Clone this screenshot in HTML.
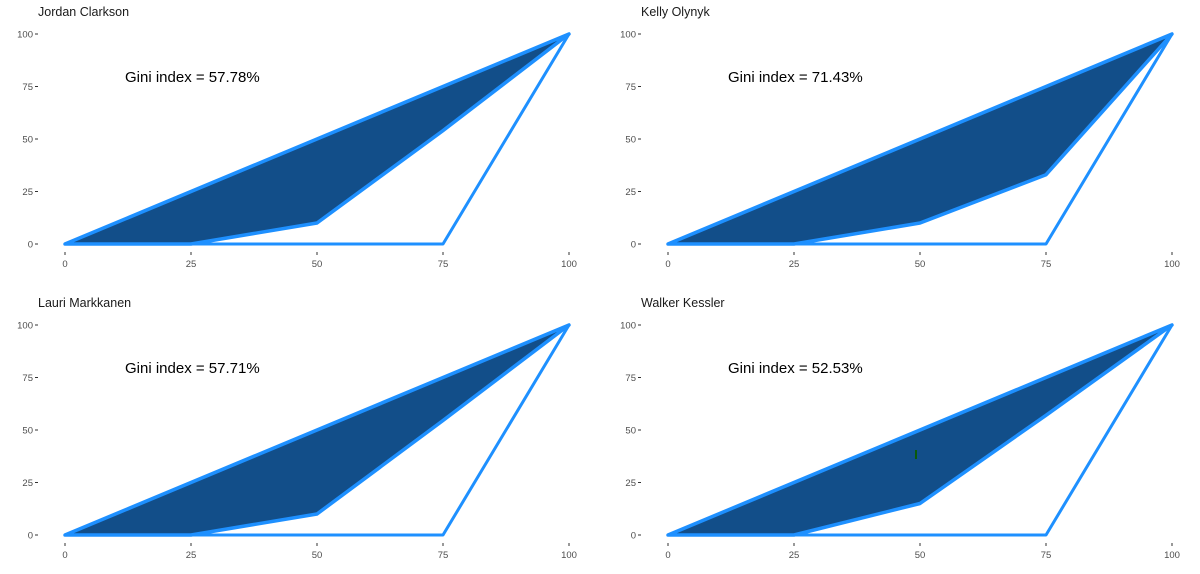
<!DOCTYPE html>
<html><head><meta charset="utf-8"><style>
html,body{margin:0;padding:0;background:#fff;}
svg{display:block;font-family:"Liberation Sans",sans-serif;}
.t{font-size:12.5px;fill:#1a1a1a;}
.tk{font-size:9.5px;fill:#4d4d4d;}
.g{font-size:15px;fill:#000;}
.ax{stroke:#333;stroke-width:1;}
</style></head><body>
<svg width="1200" height="574" viewBox="0 0 1200 574">
<defs>
<g id="axes">
  <g class="tk" text-anchor="end">
    <text x="33" y="37.5">100</text><text x="33" y="90">75</text><text x="33" y="142.5">50</text><text x="33" y="195">25</text><text x="33" y="247.5">0</text>
  </g>
  <g class="ax">
    <line x1="35" x2="38" y1="34" y2="34"/><line x1="35" x2="38" y1="86.5" y2="86.5"/><line x1="35" x2="38" y1="139" y2="139"/><line x1="35" x2="38" y1="191.5" y2="191.5"/><line x1="35" x2="38" y1="244" y2="244"/>
    <line x1="65" x2="65" y1="252" y2="255"/><line x1="191" x2="191" y1="252" y2="255"/><line x1="317" x2="317" y1="252" y2="255"/><line x1="443" x2="443" y1="252" y2="255"/><line x1="569" x2="569" y1="252" y2="255"/>
  </g>
  <g class="tk" text-anchor="middle">
    <text x="65" y="267">0</text><text x="191" y="267">25</text><text x="317" y="267">50</text><text x="443" y="267">75</text><text x="569" y="267">100</text>
  </g>
  <polyline points="65,244 443,244 569,34" fill="none" stroke="#1e90ff" stroke-width="3" stroke-linejoin="round"/>
</g>
</defs>

<!-- Panel 1 -->
<g>
  <text class="t" x="38" y="16">Jordan Clarkson</text>
  <use href="#axes"/>
  <polygon points="65,244 569,34 443,130.6 317,223 191,244" fill="#124e89" stroke="#1e90ff" stroke-width="3.5" stroke-linejoin="round"/>
  <text class="g" x="125" y="82">Gini index = 57.78%</text>
</g>
<!-- Panel 2 -->
<g transform="translate(603,0)">
  <text class="t" x="38" y="16">Kelly Olynyk</text>
  <use href="#axes"/>
  <polygon points="65,244 569,34 443,174.7 317,223 191,244" fill="#124e89" stroke="#1e90ff" stroke-width="3.5" stroke-linejoin="round"/>
  <text class="g" x="125" y="82">Gini index = 71.43%</text>
</g>
<!-- Panel 3 -->
<g transform="translate(0,291)">
  <text class="t" x="38" y="16">Lauri Markkanen</text>
  <use href="#axes"/>
  <polygon points="65,244 569,34 443,129.5 317,223 191,244" fill="#124e89" stroke="#1e90ff" stroke-width="3.5" stroke-linejoin="round"/>
  <text class="g" x="125" y="82">Gini index = 57.71%</text>
</g>
<!-- Panel 4 -->
<g transform="translate(603,291)">
  <text class="t" x="38" y="16">Walker Kessler</text>
  <use href="#axes"/>
  <polygon points="65,244 569,34 443,124.3 317,212.5 191,244" fill="#124e89" stroke="#1e90ff" stroke-width="3.5" stroke-linejoin="round"/>
  <rect x="312" y="159" width="2" height="9" fill="#0a5a0a"/>
  <text class="g" x="125" y="82">Gini index = 52.53%</text>
</g>
</svg>
</body></html>
